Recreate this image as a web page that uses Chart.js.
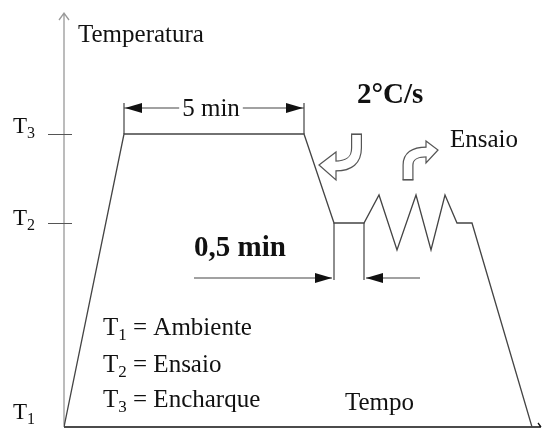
<!DOCTYPE html>
<html>
<head>
<meta charset="utf-8">
<script src="https://cdn.jsdelivr.net/npm/chart.js@4.4.1/dist/chart.umd.min.js"></script>
<style>
  body { margin: 0; background: #fff; }
  canvas { display: block; }
</style>
</head>
<body>
<canvas id="chart" width="544" height="432"></canvas>
<script>
// heat treatment profile (schematic units: time / temperature)
const timeValues = [0, 6, 24, 27, 30, 31.5, 33.3, 35.2, 36.7, 38.1, 39.3, 40.8, 46.8]
const tempValues = [0, 29.3, 29.3, 20.4, 20.4, 23.2, 17.7, 23.2, 17.7, 23.2, 20.4, 20.4, 0]
const tickValues = [0, 20.4, 29.3]
const tickLabels = ['T1', 'T2', 'T3']
const legendLines = ['T1 = Ambiente', 'T2 = Ensaio', 'T3 = Encharque']

const serif = '"Liberation Serif", "Times New Roman", serif'
const ink = '#111'
const lineCol = '#444'

function subText(ctx, text, x, y, size) {
    // "T1 = xxx" -> T, subscript 1, rest
    ctx.font = size + 'px ' + serif
    ctx.fillText(text[0], x, y)
    let w = ctx.measureText(text[0]).width
    ctx.font = Math.round(size * 0.68) + 'px ' + serif
    ctx.fillText(text[1], x + w, y + size * 0.2)
    w += ctx.measureText(text[1]).width
    ctx.font = size + 'px ' + serif
    ctx.fillText(text.slice(2), x + w, y)
}

function head(ctx, tx, ty, dir) {
    ctx.beginPath()
    ctx.moveTo(tx, ty)
    ctx.lineTo(tx - dir * 17, ty - 5)
    ctx.lineTo(tx - dir * 17, ty + 5)
    ctx.closePath()
    ctx.fill()
}

function hollowArrow(ctx, pts, tip, half) {
    // pts: tail, bendStart, control, end (pixels)
    const [a, b, c, d] = pts
    const band = () => {
        ctx.beginPath()
        ctx.moveTo(a[0], a[1])
        ctx.lineTo(b[0], b[1])
        ctx.quadraticCurveTo(c[0], c[1], d[0], d[1])
    }
    ctx.lineCap = 'butt'
    ctx.strokeStyle = '#555'
    ctx.lineWidth = 11
    band(); ctx.stroke()
    // arrow head
    const dx = d[0] - c[0], dy = d[1] - c[1]
    const len = Math.hypot(dx, dy)
    const nx = -dy / len, ny = dx / len
    ctx.beginPath()
    ctx.moveTo(tip[0], tip[1])
    ctx.lineTo(d[0] + nx * half, d[1] + ny * half)
    ctx.lineTo(d[0] - nx * half, d[1] - ny * half)
    ctx.closePath()
    ctx.fillStyle = '#fff'
    ctx.fill()
    ctx.lineWidth = 1.2
    ctx.stroke()
    ctx.strokeStyle = '#fff'
    ctx.lineWidth = 8.6
    ctx.beginPath()
    ctx.moveTo(a[0], a[1] + (a[1] < b[1] ? 1 : -1))
    ctx.lineTo(b[0], b[1])
    ctx.quadraticCurveTo(c[0], c[1], d[0] + (dx / len) * 1.5, d[1] + (dy / len) * 1.5)
    ctx.stroke()
    // close tail
    ctx.strokeStyle = '#555'
    ctx.lineWidth = 1.2
    ctx.beginPath()
    ctx.moveTo(a[0] - 5.5, a[1])
    ctx.lineTo(a[0] + 5.5, a[1])
    ctx.stroke()
}

const decor = {
    id: 'decor',
    beforeDatasetsDraw(chart) {
        const ctx = chart.ctx
        const xs = chart.scales.x, ys = chart.scales.y
        const x0 = xs.getPixelForValue(0), y0 = ys.getPixelForValue(0)
        ctx.save()
        // y axis with open arrow
        ctx.strokeStyle = '#999'
        ctx.lineWidth = 1.3
        ctx.beginPath()
        ctx.moveTo(x0, y0)
        ctx.lineTo(x0, chart.chartArea.top - 2)
        ctx.moveTo(x0 - 5, chart.chartArea.top + 5)
        ctx.lineTo(x0, chart.chartArea.top - 2)
        ctx.lineTo(x0 + 5, chart.chartArea.top + 5)
        ctx.stroke()
        // tick marks
        ctx.strokeStyle = '#555'
        ctx.lineWidth = 1
        tickValues.forEach((v, i) => {
            if (i === 0) return
            const y = Math.round(ys.getPixelForValue(v)) + 0.5
            ctx.beginPath()
            ctx.moveTo(x0 - 16, y)
            ctx.lineTo(x0 + 8, y)
            ctx.stroke()
        })
        // x axis
        ctx.strokeStyle = '#111'
        ctx.lineWidth = 1.3
        ctx.beginPath()
        ctx.moveTo(x0, y0)
        ctx.lineTo(chart.chartArea.right - 3, y0)
        ctx.moveTo(chart.chartArea.right - 6, y0 - 4)
        ctx.lineTo(chart.chartArea.right - 3, y0)
        ctx.stroke()
        ctx.restore()
    },
    afterDatasetsDraw(chart) {
        const ctx = chart.ctx
        const xs = chart.scales.x, ys = chart.scales.y
        const px = v => xs.getPixelForValue(v)
        const py = v => ys.getPixelForValue(v)
        ctx.save()
        ctx.fillStyle = ink
        ctx.textBaseline = 'alphabetic'

        // tick labels
        const labelDrop = [-8, 2, -1]
        tickValues.forEach((v, i) => {
            subText(ctx, tickLabels[i], 13, py(v) + labelDrop[i], 23)
        })

        ctx.font = '25px ' + serif
        ctx.fillText('Temperatura', px(1.4), py(38.5))
        ctx.fillText('Tempo', px(28.1), py(1.7))
        ctx.fillText('Ensaio', px(38.6), py(28))

        legendLines.forEach((t, i) => {
            subText(ctx, t, px(3.9), py([9.2, 5.5, 2.0][i]), 25)
        })

        // 5 min dimension
        ctx.strokeStyle = lineCol
        ctx.lineWidth = 1.2
        ctx.beginPath()
        ctx.moveTo(px(6), py(tempValues[1])); ctx.lineTo(px(6), py(32.4))
        ctx.moveTo(px(24), py(tempValues[2])); ctx.lineTo(px(24), py(32.4))
        ctx.moveTo(px(6), py(31.9)); ctx.lineTo(px(24), py(31.9))
        ctx.stroke()
        ctx.fillStyle = '#111'
        head(ctx, px(6) + 1, py(31.9), -1)
        head(ctx, px(24) - 1, py(31.9), 1)
        ctx.font = '25px ' + serif
        ctx.textAlign = 'center'
        const w5 = ctx.measureText('5 min').width
        ctx.fillStyle = '#fff'
        ctx.fillRect(px(14.7) - w5 / 2 - 3, py(31.9) - 12, w5 + 6, 20)
        ctx.fillStyle = ink
        ctx.fillText('5 min', px(14.7), py(31.9) + 8)
        ctx.textAlign = 'left'

        // 0,5 min dimension
        ctx.beginPath()
        ctx.moveTo(px(27), py(tempValues[3])); ctx.lineTo(px(27), py(14.7))
        ctx.moveTo(px(30), py(tempValues[4])); ctx.lineTo(px(30), py(14.7))
        ctx.moveTo(px(13), py(14.9)); ctx.lineTo(px(27) - 2, py(14.9))
        ctx.moveTo(px(35.6), py(14.9)); ctx.lineTo(px(30) + 2, py(14.9))
        ctx.stroke()
        ctx.fillStyle = '#111'
        head(ctx, px(27) - 2, py(14.9), 1)
        head(ctx, px(30) + 2, py(14.9), -1)

        ctx.fillStyle = ink
        ctx.font = 'bold 29px ' + serif
        ctx.fillText('0,5 min', px(13), py(17.1))
        ctx.fillText('2°C/s', px(29.3), py(32.4))

        // curved hollow arrows
        hollowArrow(ctx, [[px(29.25), py(29.3)], [px(29.25), py(27.9)], [px(29.25), py(26.1)], [px(27.2), py(26.1)]],
            [px(25.5), py(26.2)], 14)
        hollowArrow(ctx, [[px(34.4), py(24.7)], [px(34.4), py(26.2)], [px(34.4), py(27.5)], [px(36.2), py(27.5)]],
            [px(37.4), py(27.7)], 11)
        ctx.restore()
    }
}

new Chart(document.getElementById('chart'), {
    type: 'line',
    data: {
        datasets: [{
            data: timeValues.map((t, i) => ({ x: t, y: tempValues[i] })),
            borderColor: lineCol,
            borderWidth: 1.3,
            pointRadius: 0,
            tension: 0,
            fill: false
        }]
    },
    options: {
        responsive: false,
        animation: false,
        layout: { padding: { left: 64, right: 0, top: 15, bottom: 5 } },
        plugins: { legend: { display: false }, tooltip: { enabled: false } },
        scales: {
            x: { type: 'linear', min: 0, max: 48, display: false },
            y: { min: 0, max: 41.2, display: false }
        }
    },
    plugins: [decor]
})
</script>
</body>
</html>
